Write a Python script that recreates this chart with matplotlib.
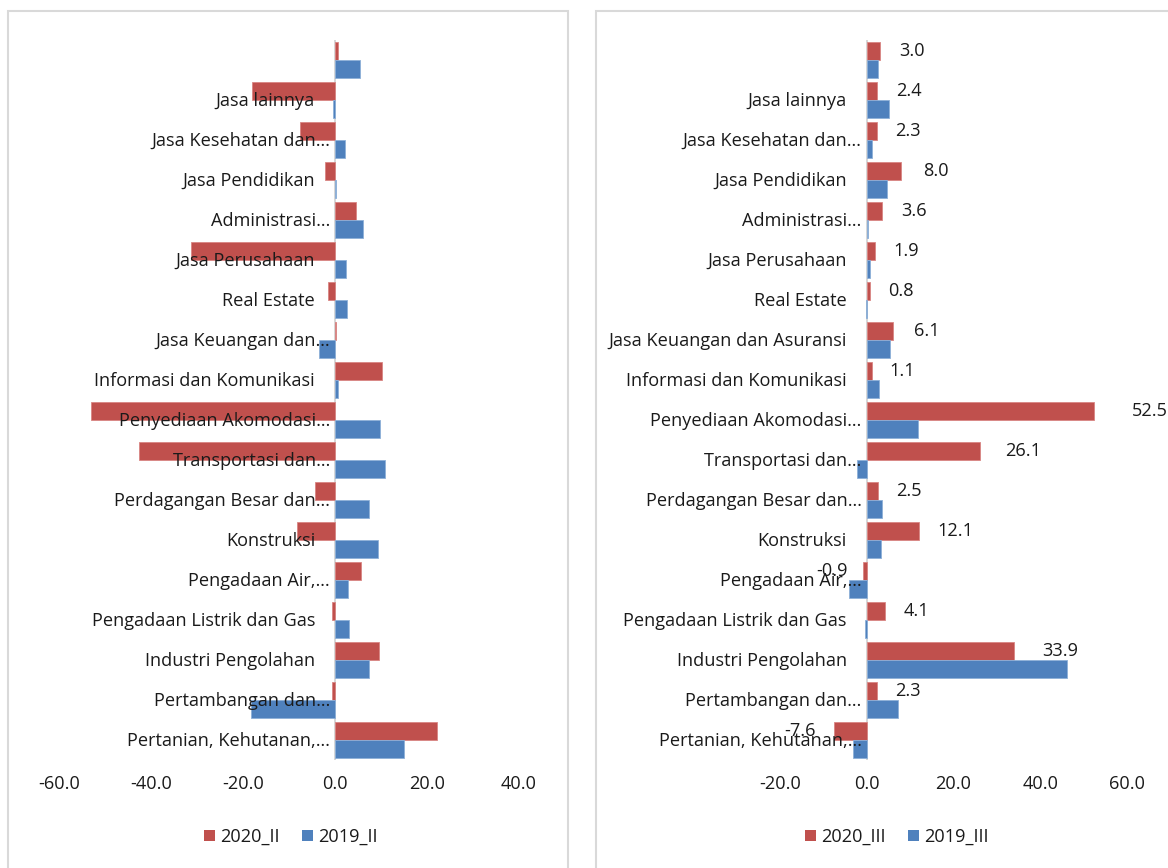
import numpy as np
import matplotlib
matplotlib.use("Agg")
import matplotlib.pyplot as plt
from matplotlib.patches import Rectangle, Patch

plt.rcParams['font.family'] = ['Open Sans', 'DejaVu Sans']

# Sector labels (top to bottom), as shown on each panel
labels_q2 = ["", "Jasa lainnya", "Jasa Kesehatan dan…", "Jasa Pendidikan",
             "Administrasi…", "Jasa Perusahaan", "Real Estate",
             "Jasa Keuangan dan…", "Informasi dan Komunikasi",
             "Penyediaan Akomodasi…", "Transportasi dan…",
             "Perdagangan Besar dan…", "Konstruksi", "Pengadaan Air,…",
             "Pengadaan Listrik dan Gas", "Industri Pengolahan",
             "Pertambangan dan…", "Pertanian, Kehutanan,…"]
labels_q3 = ["", "Jasa lainnya", "Jasa Kesehatan dan…", "Jasa Pendidikan",
             "Administrasi…", "Jasa Perusahaan", "Real Estate",
             "Jasa Keuangan dan Asuransi", "Informasi dan Komunikasi",
             "Penyediaan Akomodasi…", "Transportasi dan…",
             "Perdagangan Besar dan…", "Konstruksi", "Pengadaan Air,…",
             "Pengadaan Listrik dan Gas", "Industri Pengolahan",
             "Pertambangan dan…", "Pertanian, Kehutanan,…"]

# Growth by sector, quarter II
q2_2020 = [0.6, -18.1, -7.7, -2.1, 4.6, -31.2, -1.5, 0.3, 10.3, -53.0,
           -42.7, -4.3, -8.3, 5.6, -0.7, 9.6, -0.6, 22.2]
q2_2019 = [5.4, -0.4, 2.1, 0.3, 6.1, 2.4, 2.6, -3.5, 0.7, 9.7,
           10.8, 7.3, 9.4, 2.8, 3.0, 7.3, -18.3, 15.0]

# Growth by sector, quarter III
q3_2020 = [3.0, 2.4, 2.3, 8.0, 3.6, 1.9, 0.8, 6.1, 1.1, 52.5,
           26.1, 2.5, 12.1, -0.9, 4.1, 33.9, 2.3, -7.6]
q3_2019 = [2.7, 5.1, 1.2, 4.6, 0.3, 0.7, -0.2, 5.3, 2.8, 11.8,
           -2.3, 3.6, 3.3, -4.1, -0.3, 46.2, 7.3, -3.1]

ticks_q2 = [-60, -40, -20, 0, 20, 40]
ticks_q3 = [-20, 0, 20, 40, 60]

RED = "#C0504D"
BLUE = "#4F81BD"
TXT = "#1a1a1a"
FS = 13.1

W, H = 1168, 868
fig = plt.figure(figsize=(W / 100, H / 100), dpi=100)
fig.patch.set_facecolor("white")

# Chart-area frames
for x0, x1 in [(8, 568), (596, 1200)]:
    fig.patches.append(Rectangle((x0 / W, -0.1), (x1 - x0) / W, 1.1 - 11 / H,
                                 transform=fig.transFigure, fill=False,
                                 edgecolor="#d9d9d9", linewidth=1.5))


def panel(px0, px1, labels, red, blue, ticks, show_values):
    ax = fig.add_axes([px0 / W, 1 - 760 / H, (px1 - px0) / W, 720 / H])
    y = np.arange(len(labels))
    h = 0.45
    ax.barh(y - h / 2, red, height=h, color=RED, edgecolor="#d98583",
            linewidth=0.6, zorder=2)
    ax.barh(y + h / 2, blue, height=h, color=BLUE, edgecolor="#8eb0d8",
            linewidth=0.6, zorder=2)
    ax.set_xlim(ticks[0], ticks[-1])
    ax.set_ylim(len(labels) - 0.5, -0.5)
    ax.axvline(0, color="#d0d0d0", linewidth=1.2, zorder=1)
    for s in ax.spines.values():
        s.set_visible(False)
    ax.set_yticks([])
    ax.set_xticks(ticks)
    ax.set_xticklabels([f"{t:.1f}" for t in ticks], fontsize=FS, color=TXT)
    ax.tick_params(axis="x", length=0, pad=11)
    for yi, lab in zip(y, labels):
        off = -5 if lab.endswith("…") else -20
        ax.annotate(lab, xy=(0, yi), xytext=(off, -1),
                    textcoords="offset pixels", ha="right", va="center",
                    fontsize=FS, color=TXT, zorder=5)
    if show_values:
        for yi, v in zip(y, red):
            lx = v + np.sign(v) * (7 + 0.11 * abs(v))
            ax.text(lx, yi - h / 2, f"{v:.1f}", ha="center", va="center",
                    fontsize=FS, color=TXT, zorder=5)
    return ax


panel(59, 519, labels_q2, q2_2020, q2_2019, ticks_q2, False)
panel(780, 1127, labels_q3, q3_2020, q3_2019, ticks_q3, True)


def legend(cx, names):
    handles = [Patch(facecolor=RED, edgecolor="none"),
               Patch(facecolor=BLUE, edgecolor="none")]
    fig.legend(handles, names, loc="center", bbox_to_anchor=(cx / W, 1 - 837 / H),
               ncol=2, frameon=False, fontsize=FS, handlelength=0.6,
               handleheight=0.6, handletextpad=0.3, columnspacing=1.2,
               labelcolor=TXT)


legend(291, ["2020_II", "2019_II"])
legend(897, ["2020_III", "2019_III"])

fig.savefig("out.png", dpi=100)
